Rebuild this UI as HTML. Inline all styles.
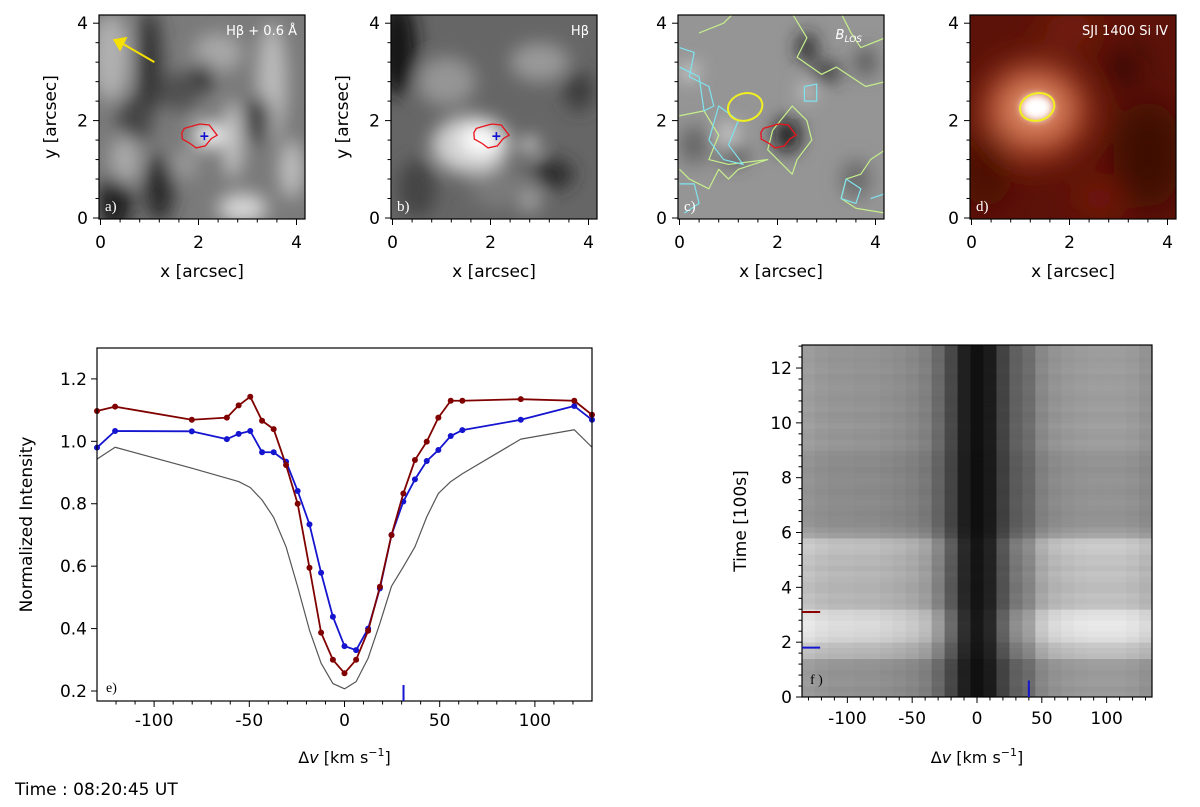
<!DOCTYPE html>
<html><head><meta charset="utf-8"><style>
html,body{margin:0;padding:0;background:#fff;}
svg{display:block;font-family:"DejaVu Sans","Liberation Sans",sans-serif;}
</style></head><body>
<svg id="fig" width="1200" height="807" viewBox="0 0 1200 807" xmlns="http://www.w3.org/2000/svg">
<defs>
<filter id="blur6" x="-50%" y="-50%" width="200%" height="200%"><feGaussianBlur stdDeviation="6"/></filter>
<filter id="blur10" x="-50%" y="-50%" width="200%" height="200%"><feGaussianBlur stdDeviation="9"/></filter>
<filter id="blur16" x="-50%" y="-50%" width="200%" height="200%"><feGaussianBlur stdDeviation="16"/></filter>
<filter id="blur3" x="-50%" y="-50%" width="200%" height="200%"><feGaussianBlur stdDeviation="4"/></filter>
<clipPath id="clipA"><rect x="99" y="15" width="206" height="204"/></clipPath>
<clipPath id="clipB"><rect x="391" y="15" width="206" height="204"/></clipPath>
<clipPath id="clipC"><rect x="678" y="15" width="206" height="204"/></clipPath>
<clipPath id="clipD"><rect x="970" y="15" width="206" height="204"/></clipPath>
</defs>
<text x="15" y="795" font-size="17" fill="#000">Time : 08:20:45 UT</text>
</svg>
<script>
// ---------- Panel e data ----------
const velE = [-130,-120.5,-80.2,-61.8,-55.6,-49.5,-43.3,-37.2,-30.7,-24.6,-18.4,-12.3,-6.1,0,6.1,12.4,18.6,24.7,30.9,37,43.2,49.3,55.8,61.9,92.6,120.7,130];
const redE = [1.097,1.111,1.069,1.076,1.115,1.143,1.066,1.039,0.924,0.80,0.595,0.387,0.30,0.257,0.30,0.393,0.534,0.70,0.833,0.94,0.999,1.076,1.13,1.13,1.135,1.13,1.085];
const blueE = [0.98,1.033,1.032,1.007,1.024,1.033,0.965,0.965,0.935,0.841,0.734,0.579,0.438,0.344,0.331,0.40,0.529,0.70,0.807,0.878,0.937,0.972,1.017,1.036,1.069,1.113,1.069];
const grayE = [0.943,0.981,0.914,0.882,0.871,0.852,0.812,0.756,0.662,0.534,0.395,0.289,0.224,0.207,0.23,0.305,0.417,0.536,0.598,0.662,0.758,0.833,0.871,0.896,1.007,1.037,0.981];
const eYTicks = [0.2,0.4,0.6,0.8,1.0,1.2];
const eXTicks = [-100,-50,0,50,100];
const eMarkerVel = 31;
// ---------- Panel f data ----------
const velF = [-130,-120,-110,-100,-90,-80,-70,-60,-50,-40,-30,-20,-10,0,10,20,30,40,50,60,70,80,90,100,110,120,130];
const profF = [0.98,0.95,0.93,0.93,0.92,0.92,0.9,0.88,0.85,0.8,0.66,0.45,0.2,0.1,0.17,0.42,0.6,0.68,0.85,0.92,0.95,0.97,0.98,0.98,0.98,0.96,0.92];
const rowLevel = [158,155,160,158,156,160,162,192,198,205,225,232,236,238,232,228,200,195,198,192,192,196,200,194,200,198,204,208,202,170,160,152,150,148,150,152,150,148,150,152,150,148,151,150,153,160,162,158,160,164,160,158,162,160,158,160,162,160,158,162,160,158,160,160];
const fYTicks = [0,2,4,6,8,10,12];
const fXTicks = [-100,-50,0,50,100];
const fRedTime = 3.1, fBlueTime = 1.8, fBlueVel = 40;

const NS = "http://www.w3.org/2000/svg";
const svg = document.getElementById('fig');
function el(tag, attrs, parent){
  const e = document.createElementNS(NS, tag);
  for (const k in attrs) e.setAttribute(k, attrs[k]);
  (parent||svg).appendChild(e);
  return e;
}
function txt(x,y,s,size,anchor,parent){
  const t = el('text',{x:x,y:y,'font-size':size,'text-anchor':anchor||'middle',fill:'#000'},parent);
  t.textContent = s; return t;
}

// ---------- Image panels a-d ----------
const panels = [
  {L:99, clip:'clipA', key:'a'},
  {L:391, clip:'clipB', key:'b'},
  {L:678, clip:'clipC', key:'c'},
  {L:970, clip:'clipD', key:'d'}
];
const TOP=15, BOT=219, W=206;
function px(p,v){return p.L+1.5+v*49;}
function py(v){return 218-v*48.7;}

const textures = {
  a:{bg:'#7a7a7a', blobs:[
    [0.2,3.3,0.4,0.9,'#b0b0b0'],[1.0,3.2,0.25,1.1,'#333'],[0.7,2.0,0.35,0.5,'#444'],[1.6,2.6,0.4,0.4,'#505050'],
    [0.3,0.3,0.35,0.6,'#1a1a1a'],[1.2,0.6,0.3,0.7,'#2a2a2a'],[2.9,0.2,0.5,0.3,'#d8d8d8'],[3.5,2.8,0.3,1.2,'#bcbcbc'],
    [2.7,1.6,0.2,0.8,'#c8c8c8'],[2.2,1.7,0.3,0.25,'#fff'],[3.9,1.0,0.25,0.6,'#c0c0c0'],[2.4,3.4,0.5,0.4,'#a8a8a8'],
    [3.2,2.0,0.3,0.5,'#404040'],[1.7,1.1,0.3,0.3,'#9a9a9a'],[0.5,1.2,0.3,0.5,'#aaa'],[2.1,2.9,0.2,0.3,'#2c2c2c']]},
  b:{bg:'#666', blobs:[
    [0.1,3.5,0.4,1.0,'#181818'],[1.6,1.5,0.8,0.6,'#d0d0d0'],[1.8,1.6,0.4,0.3,'#fff'],[2.8,1.5,0.15,0.15,'#fff'],
    [3.0,3.2,0.6,0.4,'#999'],[1.1,2.8,0.6,0.5,'#959595'],[3.3,0.9,0.4,0.3,'#2a2a2a'],[3.8,2.6,0.3,0.4,'#3a3a3a'],
    [2.8,0.4,0.2,0.3,'#aaa'],[0.5,0.6,0.4,0.6,'#444'],[2.2,0.6,0.6,0.4,'#7a7a7a']]},
  c:{bg:'#959595', blobs:[
    [2.6,3.5,0.2,0.3,'#222'],[3.0,3.0,0.3,0.2,'#333'],[3.8,3.2,0.2,0.3,'#555'],[2.2,1.7,0.25,0.35,'#111'],
    [1.1,1.3,0.3,0.2,'#444'],[0.3,1.5,0.3,0.4,'#666'],[3.6,0.8,0.3,0.4,'#6a6a6a'],[0.2,3.0,0.2,0.15,'#e0e0e0'],
    [2.6,2.6,0.15,0.15,'#e0e0e0'],[1.0,1.7,0.2,0.3,'#ccc']]},
  d:{bg:'#5c1208', blobs:[
    [1.3,2.2,1.1,1.0,'#b04422'],[1.3,2.25,0.7,0.6,'#e08a66'],[3.1,3.1,0.3,0.3,'#1a0402'],
    [3.6,1.3,0.7,1.1,'#3c0b05'],[0.3,1.0,0.5,0.8,'#4a0c05'],[2.6,0.4,0.4,0.3,'#801d0e'],[2.0,3.9,0.6,0.3,'#7e2210']]}
};

const labels = {a:'a)',b:'b)',c:'c)',d:'d)'};
const redContour = [[1.66,1.75],[1.71,1.84],[1.95,1.91],[2.03,1.93],[2.22,1.91],[2.38,1.7],[2.26,1.63],[2.14,1.48],[1.95,1.44],[1.83,1.53],[1.67,1.62]];

panels.forEach(p=>{
  const g = el('g',{'clip-path':'url(#'+p.clip+')'});
  
  
  const t = textures[p.key];
  el('rect',{x:p.L,y:TOP,width:W,height:BOT-TOP,fill:t.bg},g);
  const bg = el('g',{filter:p.key==='d'?'url(#blur16)':'url(#blur10)'},g);
  t.blobs.forEach(b=>{
    el('ellipse',{cx:px(p,b[0]),cy:py(b[1]),rx:b[2]*49,ry:b[3]*48.7,fill:b[4]},bg);
  });
  if(p.key==='d'){
    el('ellipse',{cx:px(p,1.33),cy:py(2.27),rx:16,ry:13,fill:'#fff',filter:'url(#blur3)'},g);
  }
  if(p.key==='c'){
    const green = [
      [[2.3,4.2],[2.6,3.7],[2.4,3.3],[2.9,2.95],[3.2,3.1],[3.5,2.9],[3.8,2.7],[4.2,2.8]],
      [[3.3,4.2],[3.5,3.8],[3.7,3.5],[4.2,3.7]],
      [[0,2.1],[0.5,2.2],[0.8,1.7],[0.6,1.2],[1.0,1.1],[1.8,1.2],[1.2,1.0],[1.0,0.8],[0.8,1.0],[0.6,0.6],[0.2,0.8],[0,1.0]],
      [[1.9,1.8],[2.3,2.3],[2.6,2.0],[2.7,1.6],[2.4,1.2],[2.3,0.9],[2.0,1.2],[1.8,1.4],[1.9,1.8]],
      [[4.2,1.4],[3.9,1.2],[3.7,0.9],[3.4,0.8],[3.3,0.4],[3.6,0.2],[4.2,0.1]],
      [[0.4,3.8],[0.9,4.0],[1.1,4.2]]
    ];
    const cyan = [
      [[0,3.5],[0.3,3.4],[0.2,2.9],[0.6,2.7],[0.7,2.3],[0.5,2.2],[0.4,2.9],[0,3.1]],
      [[0.6,1.6],[0.8,2.3],[1.2,2.0],[1.0,1.5],[1.3,1.1],[0.9,1.2],[0.6,1.6]],
      [[2.55,2.7],[2.8,2.75],[2.8,2.4],[2.55,2.4],[2.55,2.7]],
      [[3.4,0.8],[3.7,0.6],[3.6,0.3],[3.3,0.4],[3.4,0.8]],
      [[3.9,0.4],[4.2,0.5]],[[0,0.7],[0.3,0.7],[0.4,0.3],[0.1,0.1]]
    ];
    green.forEach((c,i)=>{
      const pl = el('polyline',{points:c.map(q=>px(p,q[0])+','+py(q[1])).join(' '),fill:'none',stroke:'#c6ee8c','stroke-width':1.2,'stroke-linejoin':'round'},g);
      
      
    });
    cyan.forEach((c,i)=>{
      const pl = el('polyline',{points:c.map(q=>px(p,q[0])+','+py(q[1])).join(' '),fill:'none',stroke:'#7fe3ee','stroke-width':1.2,'stroke-linejoin':'round'},g);
      
      
    });
  }
  if(p.key==='a'||p.key==='b'||p.key==='c'){
    const rc = el('polygon',{points:redContour.map(q=>px(p,q[0])+','+py(q[1])).join(' '),fill:'none',stroke:'#e8141c','stroke-width':1.3},g);
    
    
  }
  if(p.key==='a'||p.key==='b'){
    const cx=px(p,2.12), cy=py(1.68);
    const pl = el('path',{d:`M${cx-4},${cy}H${cx+4}M${cx},${cy-4}V${cy+4}`,stroke:'#1010d0','stroke-width':1.6},g);
    
    
  }
  if(p.key==='c'||p.key==='d'){
    const ye = el('ellipse',{cx:px(p,1.34),cy:py(2.28),rx:0.355*49,ry:0.28*48.7,fill:'none',stroke:'#f0f020','stroke-width':2,transform:`rotate(-15 ${px(p,1.34)} ${py(2.28)})`},g);
    
    
  }
  if(p.key==='a'){
    const ar = el('g',{},g);
    
    
    el('line',{x1:px(p,1.1),y1:py(3.2),x2:px(p,0.45),y2:py(3.58),stroke:'#f5e000','stroke-width':2},ar);
    el('polygon',{points:`${px(p,0.25)},${py(3.67)} ${px(p,0.55)},${py(3.72)} ${px(p,0.4)},${py(3.42)}`,fill:'#f5e000'},ar);
  }
  const titles = {a:'Hβ + 0.6 Å', b:'Hβ', c:'', d:'SJI 1400 Si IV'};
  if(p.key==='c'){
    const tt = el('text',{x:p.L+W-22,y:TOP+24,'font-size':13,'font-style':'italic',fill:'#fff','text-anchor':'end'});
    tt.innerHTML = 'B<tspan font-size="9" dy="3">LOS</tspan>';
    
    
  } else {
    const tt = el('text',{x:p.L+W-8,y:TOP+20,'font-size':13,fill:'#fff','text-anchor':'end'});
    tt.textContent = titles[p.key];
    
    
  }
  const lb = el('text',{x:p.L+6,y:BOT-8,'font-size':15,fill:'#fff','font-family':'Liberation Serif, serif'});
  lb.textContent = labels[p.key];
  
  
  el('rect',{x:p.L,y:TOP,width:W,height:BOT-TOP,fill:'none',stroke:'#000','stroke-width':1.2});
  const ax = el('g',{});
  
  
  for(let i=0;i<=10;i++){
    const v=i*0.4, major=(Math.abs(v-Math.round(v/2)*2)<1e-6);
    const len = major?6:3.5;
    el('line',{x1:px(p,v),y1:BOT,x2:px(p,v),y2:BOT+len,stroke:'#000','stroke-width':1},ax);
    el('line',{x1:p.L,y1:py(v),x2:p.L-len,y2:py(v),stroke:'#000','stroke-width':1},ax);
    if(major){
      txt(px(p,v),BOT+29,String(Math.round(v)),17,'middle',ax);
      txt(p.L-11,py(v)+6,String(Math.round(v)),17,'end',ax);
    }
  }
  const xl = txt(p.L+W/2,277,'x [arcsec]',17,'middle',ax);
  
  
  if(p.key==='a'||p.key==='b'){
    const yl = txt(0,0,'y [arcsec]',17,'middle',ax);
    yl.setAttribute('transform',`translate(${p.L-43},${(TOP+BOT)/2}) rotate(-90)`);
    
    
  }
});

// ---------- Panel e ----------
const E = {L:97,R:592,T:348,B:701,xmin:-130,xmax:130,ymin:0.168,ymax:1.299};
function ex(v){return E.L+(v-E.xmin)/(E.xmax-E.xmin)*(E.R-E.L);}
function ey(v){return E.B-(v-E.ymin)/(E.ymax-E.ymin)*(E.B-E.T);}
const ge = el('g',{});


function series(vals,color,w,markers,name){
  const g = el('g',{},ge);
  
  
  el('polyline',{points:velE.map((v,i)=>ex(v)+','+ey(vals[i])).join(' '),fill:'none',stroke:color,'stroke-width':w,'stroke-linejoin':'round'},g);
  if(markers) velE.forEach((v,i)=>{
    const c = el('circle',{cx:ex(v),cy:ey(vals[i]),r:3,fill:color},g);
    
    
  });
}
series(grayE,'#555',1.2,false,'reference-profile-gray');
series(blueE,'#1515d0',1.8,true,'profile-blue');
series(redE,'#800000',1.8,true,'profile-red');
el('rect',{x:E.L,y:E.T,width:E.R-E.L,height:E.B-E.T,fill:'none',stroke:'#000','stroke-width':1.2},ge);
eYTicks.forEach(v=>{
  el('line',{x1:E.L,y1:ey(v),x2:E.L-6,y2:ey(v),stroke:'#000'},ge);
  txt(E.L-10,ey(v)+6,v.toFixed(1),17,'end',ge);
});
for(let v=-120; v<=120; v+=10){
  const major = eXTicks.indexOf(v)>=0;
  el('line',{x1:ex(v),y1:E.B,x2:ex(v),y2:E.B+(major?6:3.5),stroke:'#000'},ge);
}
eXTicks.forEach(v=>txt(ex(v),E.B+25,String(v),17,'middle',ge));
const eml = el('line',{x1:ex(eMarkerVel),y1:E.B,x2:ex(eMarkerVel),y2:E.B-16,stroke:'#1515d0','stroke-width':2},ge);


const el1 = txt(E.L+9,E.B-9,'e)',14,'start',ge); el1.setAttribute('font-family','Liberation Serif, serif');
const exl = el('text',{x:(E.L+E.R)/2,y:763,'font-size':16,'text-anchor':'middle'},ge);
exl.innerHTML = 'Δ<tspan font-style="italic">v</tspan> [km s<tspan font-size="11" dy="-7">−1</tspan><tspan dy="7">]</tspan>';


const eyl = txt(0,0,'Normalized Intensity',17,'middle',ge);
eyl.setAttribute('transform',`translate(32,${(E.T+E.B)/2}) rotate(-90)`);



// ---------- Panel f ----------
const F = {L:802,R:1152,T:345,B:697,xmin:-135,xmax:135,ymin:0,ymax:12.84};
function fx(v){return F.L+(v-F.xmin)/(F.xmax-F.xmin)*(F.R-F.L);}
function fy(v){return F.B-(v-F.ymin)/(F.ymax-F.ymin)*(F.B-F.T);}
const gf = el('g',{});


const dt = 0.2;
rowLevel.forEach((lvl,r)=>{
  const t0=r*dt, t1=(r===rowLevel.length-1)?F.ymax:(r+1)*dt;
  velF.forEach((v,c)=>{
    let g = profF[c]*lvl; if(g>245) g=245; g=Math.round(g);
    const x0=fx(v-5), x1=fx(v+5);
    const cell = el('rect',{x:x0.toFixed(2),y:fy(t1).toFixed(2),width:(x1-x0+0.4).toFixed(2),height:(fy(t0)-fy(t1)+0.4).toFixed(2),fill:`rgb(${g},${g},${g})`},gf);
    
    
  });
});
el('rect',{x:F.L,y:F.T,width:F.R-F.L,height:F.B-F.T,fill:'none',stroke:'#000','stroke-width':1.2},gf);
for(let i=0;i<=32;i++){
  const v=i*0.4; const major = fYTicks.some(t=>Math.abs(t-v)<1e-6);
  el('line',{x1:F.L,y1:fy(v),x2:F.L-(major?6:3.5),y2:fy(v),stroke:'#000'},gf);
}
fYTicks.forEach(v=>txt(F.L-10,fy(v)+6,String(v),17,'end',gf));
for(let v=-130; v<=130; v+=10){
  const major = fXTicks.indexOf(v)>=0;
  el('line',{x1:fx(v),y1:F.B,x2:fx(v),y2:F.B+(major?6:3.5),stroke:'#000'},gf);
}
fXTicks.forEach(v=>txt(fx(v),F.B+27,String(v),17,'middle',gf));
const rm = el('line',{x1:F.L,y1:fy(fRedTime),x2:fx(-121),y2:fy(fRedTime),stroke:'#8b0000','stroke-width':2},gf);
 
const bm = el('line',{x1:F.L,y1:fy(fBlueTime),x2:fx(-121),y2:fy(fBlueTime),stroke:'#1515d0','stroke-width':2},gf);
 
const bv = el('line',{x1:fx(fBlueVel),y1:F.B,x2:fx(fBlueVel),y2:fy(0.6),stroke:'#1515d0','stroke-width':2},gf);
 
const fl = txt(F.L+8,F.B-13,'f )',14,'start',gf); fl.setAttribute('font-family','Liberation Serif, serif');
const fxl = el('text',{x:(F.L+F.R)/2,y:763,'font-size':16,'text-anchor':'middle'},gf);
fxl.innerHTML = 'Δ<tspan font-style="italic">v</tspan> [km s<tspan font-size="11" dy="-7">−1</tspan><tspan dy="7">]</tspan>';


const fyl = txt(0,0,'Time [100s]',17,'middle',gf);
fyl.setAttribute('transform',`translate(746,${(F.T+F.B)/2}) rotate(-90)`);


</script>
</body></html>
